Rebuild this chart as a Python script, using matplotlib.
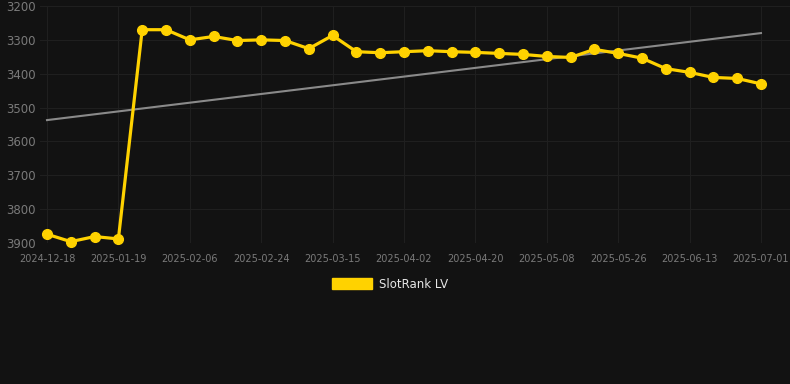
import matplotlib
matplotlib.use("Agg")
import matplotlib.pyplot as plt
from matplotlib.patches import Patch
import numpy as np

BG = '#121212'
GOLD = '#FFD200'

# weekly-ish samples, evenly spaced on the axis
rank = [3874, 3896, 3881, 3888, 3270, 3270, 3300, 3290, 3302, 3300,
        3302, 3326, 3287, 3335, 3338, 3335, 3332, 3335, 3337, 3340,
        3343, 3349, 3352, 3328, 3340, 3354, 3385, 3396, 3411, 3414, 3430]
trend = [3537, 3280]  # start / end of trend line
tick_labels = ['2024-12-18', '2025-01-19', '2025-02-06', '2025-02-24',
               '2025-03-15', '2025-04-02', '2025-04-20', '2025-05-08',
               '2025-05-26', '2025-06-13', '2025-07-01']
yticks = [3200, 3300, 3400, 3500, 3600, 3700, 3800, 3900]

x = np.arange(len(rank))
tick_pos = x[::3]

fig = plt.figure(figsize=(7.9, 3.84), dpi=100, facecolor=BG)
ax = fig.add_axes([40 / 790, 1 - 243 / 384, 750 / 790, 237 / 384])
ax.set_facecolor(BG)

ax.plot([x[0], x[-1]], trend, color='#8a8a8a', lw=1.5, zorder=2)
ax.plot(x, rank, color=GOLD, lw=2.3, marker='o', markersize=7, zorder=3,
        clip_on=False)

ax.set_xlim(-0.294, 31.22)
ax.set_ylim(3900, 3200)
ax.set_yticks(yticks)
ax.set_xticks(tick_pos)
ax.set_xticklabels(tick_labels)

ax.grid(True, color='#1f1f1f', lw=0.8)
for s in ax.spines.values():
    s.set_visible(False)
ax.tick_params(axis='both', length=0, colors='#7a7a7a')
ax.tick_params(axis='y', labelsize=8.5, pad=3)
ax.tick_params(axis='x', labelsize=7, pad=8)

fig.legend(handles=[Patch(color=GOLD, label='SlotRank LV')], loc='center',
           bbox_to_anchor=(390 / 790, 1 - 284 / 384), frameon=False,
           handlelength=3.4, handleheight=1.0, fontsize=8.5, labelcolor='#e6e6e6',
           handletextpad=0.6)

fig.savefig('out.png', dpi=100, facecolor=BG)
